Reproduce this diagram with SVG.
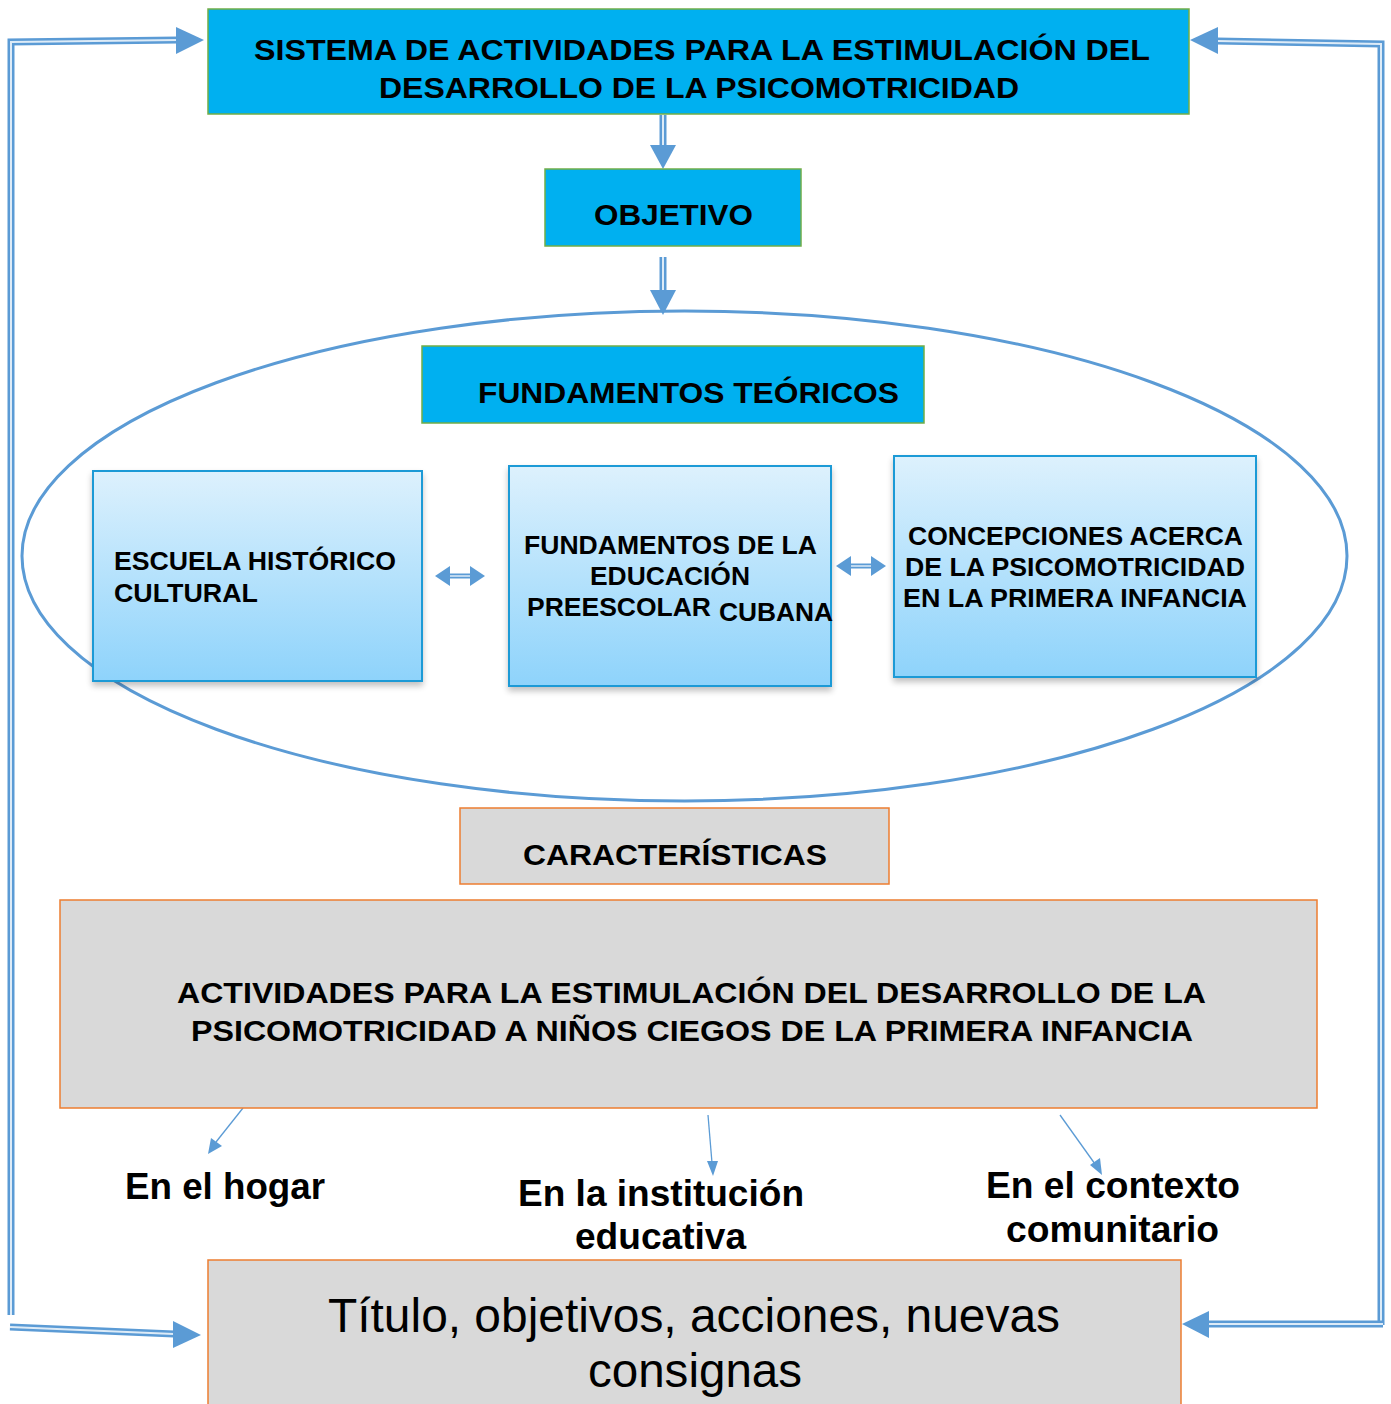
<svg xmlns="http://www.w3.org/2000/svg" width="1391" height="1404" viewBox="0 0 1391 1404">
<style>
.t{font-family:"Liberation Sans",Arial,sans-serif;font-weight:bold;fill:#000}
.n{font-family:"Liberation Sans",Arial,sans-serif;fill:#000}
.cyan{fill:#00B0F0;stroke:#70AD47;stroke-width:1.5}
.grey{fill:#D9D9D9;stroke:#ED7D31;stroke-width:1.5}
.lb{fill:url(#lg);stroke:#1B9AD6;stroke-width:2;filter:url(#ds)}
.shaft{fill:none;stroke:#5B9BD5;stroke-width:7}
.inner{fill:none;stroke:#DDEBF7;stroke-width:2}
.head{fill:#5B9BD5}
.thin{fill:none;stroke:#5B9BD5;stroke-width:1.3}
</style>
<defs>
<linearGradient id="lg" x1="0" y1="0" x2="0" y2="1">
<stop offset="0" stop-color="#DDF1FD"/>
<stop offset="1" stop-color="#8ED3FB"/>
</linearGradient>
<filter id="ds" x="-5%" y="-5%" width="112%" height="115%">
<feGaussianBlur in="SourceAlpha" stdDeviation="3"/>
<feOffset dx="0" dy="4" result="b"/>
<feComponentTransfer><feFuncA type="linear" slope="0.25"/></feComponentTransfer>
<feMerge><feMergeNode/><feMergeNode in="SourceGraphic"/></feMerge>
</filter>
</defs>
<rect width="1391" height="1404" fill="#fff"/>

<g id="connectors">
<path class="shaft" d="M11,1315 V42 L178,40"/>
<path class="inner" d="M11,1315 V42 L178,40"/>
<polygon class="head" points="176,27 204,40 176,54"/>
<path class="shaft" d="M10,1327 L174,1334"/>
<path class="inner" d="M10,1327 L174,1334"/>
<polygon class="head" points="173,1321 201,1335 173,1348"/>
<path class="shaft" d="M1381,1325 V44 L1217,41"/>
<path class="inner" d="M1381,1325 V44 L1217,41"/>
<polygon class="head" points="1218,27 1190,40 1218,54"/>
<path class="shaft" d="M1383,1324 H1208"/>
<path class="inner" d="M1383,1324 H1208"/>
<polygon class="head" points="1209,1311 1182,1324 1209,1338"/>
<path class="shaft" d="M663,115 V146"/>
<path class="inner" d="M663,115 V146"/>
<polygon class="head" points="650,145 676,145 663,169"/>
<path class="shaft" d="M663,257 V291"/>
<path class="inner" d="M663,257 V291"/>
<polygon class="head" points="650,290 676,290 663,315"/>
<path class="shaft" d="M448,576 H472" style="stroke-width:5"/>
<path class="inner" d="M448,576 H472" style="stroke-width:1.5"/>
<polygon class="head" points="435,576 450,566 450,586"/>
<polygon class="head" points="485,576 470,566 470,586"/>
<path class="shaft" d="M849,566 H873" style="stroke-width:5"/>
<path class="inner" d="M849,566 H873" style="stroke-width:1.5"/>
<polygon class="head" points="836,566 851,556 851,576"/>
<polygon class="head" points="886,566 871,556 871,576"/>
<line class="thin" x1="243" y1="1108" x2="216" y2="1142"/>
<polygon class="head" points="208,1154 211,1138 222,1146"/>
<line class="thin" x1="708" y1="1115" x2="712" y2="1163"/>
<polygon class="head" points="713,1176 707,1161 718,1161"/>
<line class="thin" x1="1060" y1="1115" x2="1095" y2="1164"/>
<polygon class="head" points="1102,1175 1090,1165 1100,1158"/>
</g>

<g id="ellipse">
<ellipse cx="684.5" cy="556" rx="662.5" ry="245" fill="none" stroke="#5B9BD5" stroke-width="3"/>
</g>

<g id="sistema">
<rect class="cyan" x="208" y="9" width="981" height="105"/>
<text class="t" font-size="29" x="254" y="60" textLength="896" lengthAdjust="spacingAndGlyphs">SISTEMA DE ACTIVIDADES PARA LA ESTIMULACIÓN DEL</text>
<text class="t" font-size="29" x="379" y="98" textLength="640" lengthAdjust="spacingAndGlyphs">DESARROLLO DE LA PSICOMOTRICIDAD</text>
</g>

<g id="objetivo">
<rect class="cyan" x="545" y="169" width="256" height="77"/>
<text class="t" font-size="29" x="594" y="225" textLength="159" lengthAdjust="spacingAndGlyphs">OBJETIVO</text>
</g>

<g id="fundamentos-teoricos">
<rect class="cyan" x="422" y="346" width="502" height="77"/>
<text class="t" font-size="30" x="478" y="403" textLength="421" lengthAdjust="spacingAndGlyphs">FUNDAMENTOS TEÓRICOS</text>
</g>

<g id="escuela">
<rect class="lb" x="93" y="471" width="329" height="210"/>
<text class="t" font-size="26" x="114" y="570" textLength="282" lengthAdjust="spacingAndGlyphs">ESCUELA HISTÓRICO</text>
<text class="t" font-size="26" x="114" y="602" textLength="144" lengthAdjust="spacingAndGlyphs">CULTURAL</text>
</g>

<g id="fundamentos-educacion">
<rect class="lb" x="509" y="466" width="322" height="220"/>
<text class="t" font-size="25" x="524" y="554" textLength="293" lengthAdjust="spacingAndGlyphs">FUNDAMENTOS DE LA</text>
<text class="t" font-size="25" x="590" y="585" textLength="160" lengthAdjust="spacingAndGlyphs">EDUCACIÓN</text>
<text class="t" font-size="25" x="527" y="616" textLength="184" lengthAdjust="spacingAndGlyphs">PREESCOLAR</text>
<text class="t" font-size="25" x="719" y="621" textLength="114" lengthAdjust="spacingAndGlyphs">CUBANA</text>
</g>

<g id="concepciones">
<rect class="lb" x="894" y="456" width="362" height="221"/>
<text class="t" font-size="25" x="908" y="545" textLength="335" lengthAdjust="spacingAndGlyphs">CONCEPCIONES ACERCA</text>
<text class="t" font-size="25" x="905" y="576" textLength="340" lengthAdjust="spacingAndGlyphs">DE LA PSICOMOTRICIDAD</text>
<text class="t" font-size="25" x="903" y="607" textLength="344" lengthAdjust="spacingAndGlyphs">EN LA PRIMERA INFANCIA</text>
</g>

<g id="caracteristicas">
<rect class="grey" x="460" y="808" width="429" height="76"/>
<text class="t" font-size="29" x="523" y="865" textLength="304" lengthAdjust="spacingAndGlyphs">CARACTERÍSTICAS</text>
</g>

<g id="actividades">
<rect class="grey" x="60" y="900" width="1257" height="208"/>
<text class="t" font-size="29" x="177" y="1003" textLength="1029" lengthAdjust="spacingAndGlyphs">ACTIVIDADES PARA LA ESTIMULACIÓN DEL DESARROLLO DE LA</text>
<text class="t" font-size="29" x="191" y="1041" textLength="1002" lengthAdjust="spacingAndGlyphs">PSICOMOTRICIDAD A NIÑOS CIEGOS DE LA PRIMERA INFANCIA</text>
</g>

<g id="hogar">
<text class="t" font-size="36" x="125" y="1199" textLength="200" lengthAdjust="spacingAndGlyphs">En el hogar</text>
</g>

<g id="institucion">
<text class="t" font-size="36" x="518" y="1206" textLength="286" lengthAdjust="spacingAndGlyphs">En la institución</text>
<text class="t" font-size="36" x="575" y="1249" textLength="171" lengthAdjust="spacingAndGlyphs">educativa</text>
</g>

<g id="contexto">
<text class="t" font-size="36" x="986" y="1198" textLength="254" lengthAdjust="spacingAndGlyphs">En el contexto</text>
<text class="t" font-size="36" x="1006" y="1242" textLength="213" lengthAdjust="spacingAndGlyphs">comunitario</text>
</g>

<g id="titulo">
<rect class="grey" x="208" y="1260" width="973" height="150"/>
<text class="n" font-size="48" x="328" y="1332" textLength="732" lengthAdjust="spacingAndGlyphs">Título, objetivos, acciones, nuevas</text>
<text class="n" font-size="48" x="588" y="1387" textLength="214" lengthAdjust="spacingAndGlyphs">consignas</text>
</g>
</svg>
